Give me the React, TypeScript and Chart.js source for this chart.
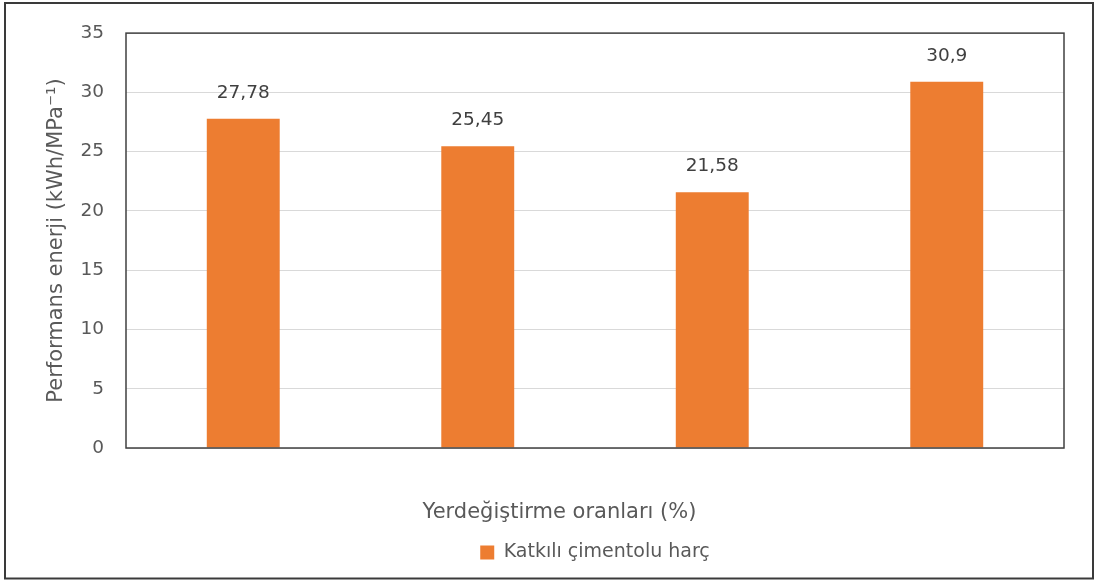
import React, { useEffect, useRef } from "react";
import { Chart, registerables } from "chart.js";

Chart.register(...registerables);

// ---- data ----
const categories: string[] = ["", "", "", ""];
const seriesName = "Katkılı çimentolu harç";
const seriesValues: number[] = [27.78, 25.45, 21.58, 30.9];
const yMin = 0;
const yMax = 35;
const yStep = 5;
const xAxisTitle = "Yerdeğiştirme oranları (%)";
const yAxisTitle = "Performans enerji (kWh/MPa⁻¹)";

const FONT = "'DejaVu Sans', sans-serif";
const TEXT = "#595959";
const BAR = "#ED7D31";

const framePlugin = {
  id: "frame",
  beforeDraw(chart: any) {
    const { ctx, width, height } = chart;
    ctx.save();
    ctx.fillStyle = "#ffffff";
    ctx.fillRect(0, 0, width, height);
    ctx.strokeStyle = "#3a3a3a";
    ctx.lineWidth = 2;
    ctx.strokeRect(5, 3, 1088, 575.5);
    ctx.restore();
  },
  afterDatasetsDraw(chart: any) {
    const { ctx, chartArea } = chart;
    ctx.save();
    ctx.strokeStyle = "#404040";
    ctx.lineWidth = 1.5;
    ctx.strokeRect(chartArea.left, chartArea.top, chartArea.right - chartArea.left, chartArea.bottom - chartArea.top);
    // data labels
    const meta = chart.getDatasetMeta(0);
    const data = chart.data.datasets[0].data as number[];
    ctx.fillStyle = "#404040";
    ctx.font = `18.5px ${FONT}`;
    ctx.textAlign = "center";
    ctx.textBaseline = "middle";
    meta.data.forEach((el: any, i: number) => {
      const txt = String(data[i]).replace(".", ",");
      ctx.fillText(txt, el.x, el.y - 26);
    });
    ctx.restore();
  },
};

export default function App() {
  const ref = useRef<HTMLCanvasElement | null>(null);
  useEffect(() => {
    if (!ref.current) return;
    const chart = new Chart(ref.current, {
      type: "bar",
      data: {
        labels: categories,
        datasets: [
          {
            label: seriesName,
            data: seriesValues,
            backgroundColor: BAR,
            borderWidth: 0,
            barPercentage: 0.311,
            categoryPercentage: 1,
          },
        ],
      },
      options: {
        animation: false,
        responsive: false,
        devicePixelRatio: 1,
        layout: { padding: { left: 55, right: 30, top: 32, bottom: 9 } },
        scales: {
          x: {
            grid: { display: false, drawTicks: false },
            border: { display: false },
            ticks: { display: false },
            afterFit(scale: any) {
              scale.height = 0;
            },
          },
          y: {
            min: yMin,
            max: yMax,
            grid: { color: "#D9D9D9", lineWidth: 1, drawTicks: false },
            border: { display: false },
            ticks: {
              stepSize: yStep,
              padding: 22,
              color: TEXT,
              font: { family: FONT, size: 18.5 },
            },
            title: {
              display: true,
              text: yAxisTitle,
              color: TEXT,
              font: { family: FONT, size: 21 },
              padding: { top: -11.5, bottom: 0 },
            },
            afterFit(scale: any) {
              scale.width = 71;
            },
          },
        },
        plugins: {
          legend: {
            display: true,
            position: "bottom",
            fullSize: false,
            labels: {
              boxWidth: 14,
              boxHeight: 14,
              color: TEXT,
              font: { family: FONT, size: 19 },
              padding: 10,
            },
          },
          title: {
            display: true,
            position: "bottom",
            text: xAxisTitle,
            color: TEXT,
            weight: 500,
            font: { family: FONT, size: 21, weight: "normal" },
            padding: { top: 52, bottom: 7.8 },
          },
          tooltip: { enabled: false },
        },
      },
      plugins: [framePlugin],
    } as any);
    return () => chart.destroy();
  }, []);
  return (
    <div style={{ position: "fixed", left: 0, top: 0, width: 1094, height: 581 }}>
      <canvas ref={ref} width={1094} height={581} style={{ display: "block" }} />
    </div>
  );
}
